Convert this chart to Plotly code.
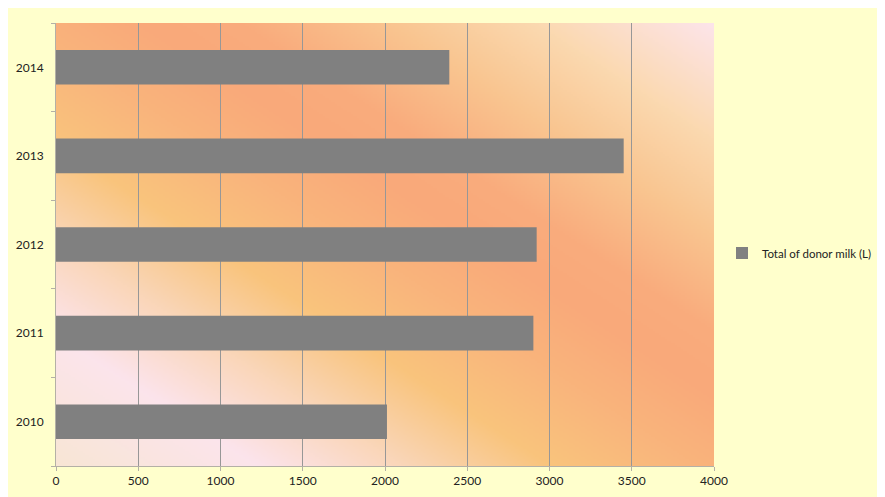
import numpy as np
import zlib, struct, base64
import plotly.graph_objects as go

# ---- data ----
years = ["2010", "2011", "2012", "2013", "2014"]
donor_milk = [2012, 2902, 2922, 3451, 2391]
series_name = "Total of donor milk (L)"
x_ticks = [0, 500, 1000, 1500, 2000, 2500, 3000, 3500, 4000]

# ---- layout geometry (page body adds an 8px offset) ----
FW, FH = 877, 489
ML, MT = 48, 15
PW, PH = 658, 443
MR = FW - ML - PW
MB = FH - MT - PH

# ---- gradient background image for the plot area (decoration) ----
def gradient_png(w, h):
    u = (np.arange(w)[None, :] + 0.5) * (PW / w)
    v = (np.arange(h)[:, None] + 0.5) * (PH / h)
    s = 0.545 * u - 0.838 * v
    pos = [-375, -260, -180, -100, -20, 50, 100, 180, 260, 360]
    cols = [(248, 230, 212), (252, 228, 236), (250, 214, 184), (249, 196, 124),
            (249, 180, 124), (249, 169, 122), (249, 172, 125), (249, 197, 144),
            (251, 217, 176), (253, 229, 236)]
    cols = np.array(cols, dtype=float)
    img = np.zeros((h, w, 3), dtype=np.uint8)
    for c in range(3):
        img[:, :, c] = np.clip(np.interp(s, pos, cols[:, c]), 0, 255).astype(np.uint8)
    raw = b"".join(b"\x00" + img[r].tobytes() for r in range(h))

    def chunk(t, d):
        return struct.pack(">I", len(d)) + t + d + struct.pack(">I", zlib.crc32(t + d) & 0xffffffff)

    png = b"\x89PNG\r\n\x1a\n"
    png += chunk(b"IHDR", struct.pack(">IIBBBBB", w, h, 8, 2, 0, 0, 0))
    png += chunk(b"IDAT", zlib.compress(raw, 9))
    png += chunk(b"IEND", b"")
    return "data:image/png;base64," + base64.b64encode(png).decode()

bg_src = gradient_png(PW // 2, PH // 2)

FONT = "Lato, 'Open Sans', sans-serif"

fig = go.Figure()
fig.add_trace(go.Bar(
    x=donor_milk, y=years, orientation="h",
    name=series_name,
    marker=dict(color="#808080", line=dict(width=0)),
    width=0.39,
    showlegend=True,
))

fig.update_layout(
    width=FW, height=FH,
    margin=dict(l=ML, r=MR, t=MT, b=MB, pad=0, autoexpand=False),
    paper_bgcolor="#FFFFCC",
    plot_bgcolor="rgba(0,0,0,0)",
    font=dict(family=FONT, size=12, color="#222222"),
    showlegend=True,
    legend=dict(
        xref="container", yref="container",
        x=714 / FW, y=1 - 245 / FH,
        xanchor="left", yanchor="middle",
        bgcolor="rgba(0,0,0,0)",
        font=dict(family=FONT, size=11.5, color="#222222"),
        itemwidth=30,
    ),
    bargap=0.61,
    images=[dict(
        source=bg_src, xref="paper", yref="paper",
        x=0, y=1, sizex=1, sizey=1, xanchor="left", yanchor="top",
        sizing="stretch", layer="below",
    )],
)

fig.update_xaxes(
    range=[0, 4000],
    tickvals=x_ticks,
    ticktext=[str(t) for t in x_ticks],
    showgrid=True, gridcolor="#979797", gridwidth=1,
    zeroline=False,
    showline=True, linecolor="#B4B0A6", linewidth=1,
    ticks="outside", ticklen=4, tickcolor="#B4B0A6",
    tickfont=dict(family=FONT, size=12, color="#222222"),
    fixedrange=True,
)
fig.update_yaxes(
    type="category",
    categoryorder="array", categoryarray=years,
    range=[-0.5, 4.5],
    showgrid=False, zeroline=False,
    showline=True, linecolor="#B4B0A6", linewidth=1,
    ticks="outside", ticklen=4, tickcolor="#B4B0A6",
    tickson="boundaries",
    tickfont=dict(family=FONT, size=12, color="#222222"),
    ticklabelstandoff=9,
    fixedrange=True,
)

fig.write_html("out.html")
